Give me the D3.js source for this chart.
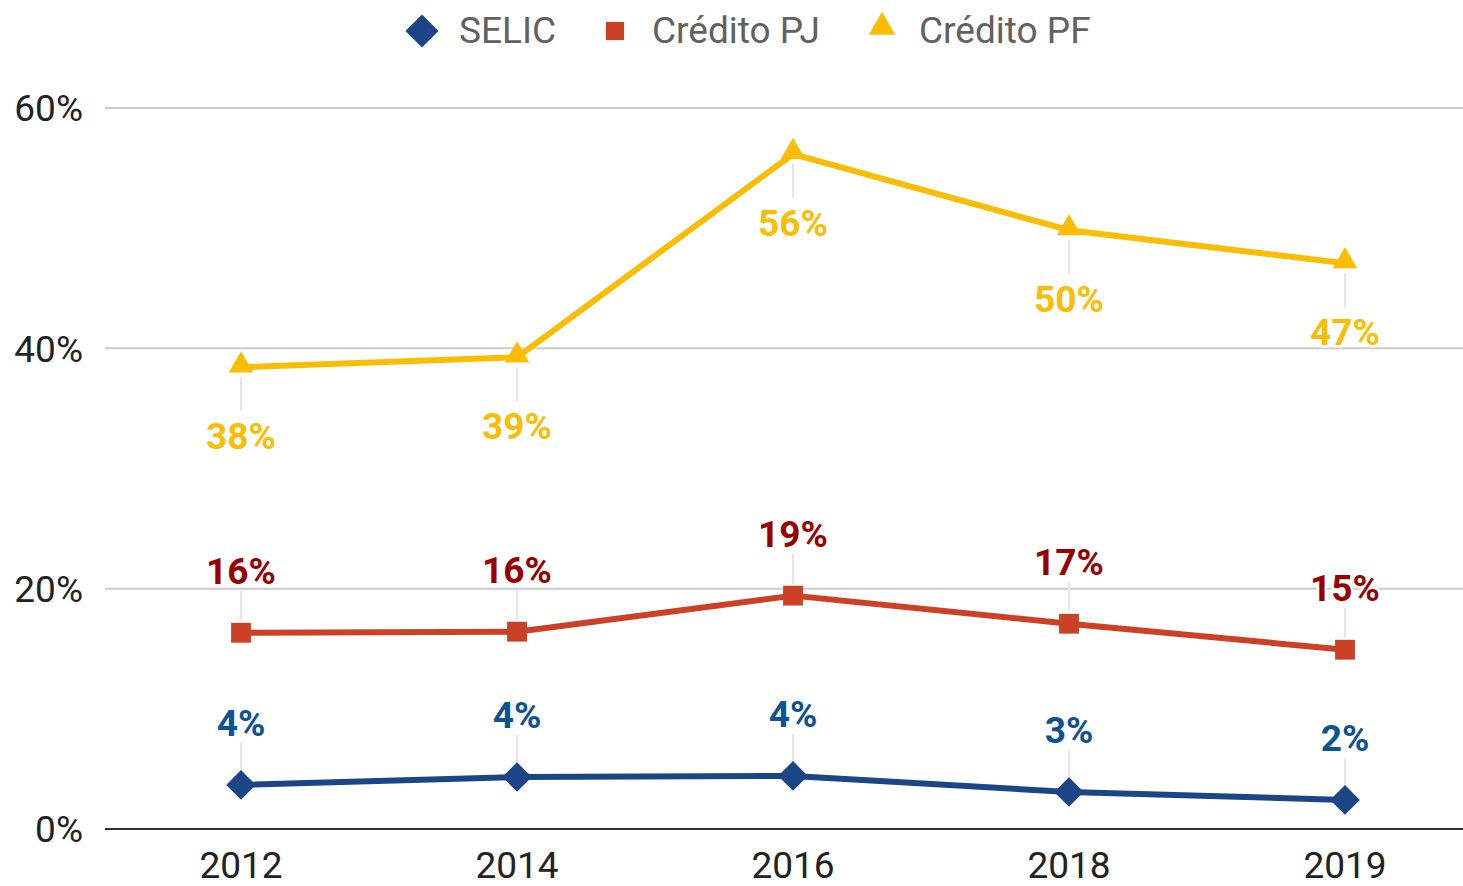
<!DOCTYPE html>
<html><head><meta charset="utf-8">
<script src="https://cdn.jsdelivr.net/npm/d3@7/dist/d3.min.js"></script>
<style>
html,body{margin:0;padding:0;background:#fff;overflow:hidden}
text{font-family:Roboto,"Noto Sans",sans-serif}
</style></head>
<body><svg id="c" width="1463" height="886"></svg>
<script>
const years = ["2012","2014","2016","2018","2019"];
const selic = [0.0367, 0.0433, 0.0442, 0.0308, 0.0242];
const creditoPJ = [0.1633, 0.1642, 0.1942, 0.1708, 0.1492];
const creditoPF = [0.3842, 0.3925, 0.5617, 0.4983, 0.4708];
const yTicks = [0, 0.2, 0.4, 0.6];

const series = [
  {name:"SELIC", values:selic, color:"#1c4587", labelColor:"#0b5394", symbol:d3.symbolDiamond2, size:560, pos:"above"},
  {name:"Crédito PJ", values:creditoPJ, color:"#cc4125", labelColor:"#990000", symbol:d3.symbolSquare2, size:500, pos:"above"},
  {name:"Crédito PF", values:creditoPF, color:"#fbbc04", labelColor:"#fbbc04", symbol:d3.symbolTriangle2, size:430, pos:"below"}
];

const svg = d3.select("#c");
const x = d3.scalePoint().domain(years).range([103,1483]).padding(0.5);
const y = d3.scaleLinear().domain([0,0.6]).range([829,108]);
const fmt = d3.format(".0%");

// gridlines
svg.append("g").selectAll("line").data(yTicks.filter(d=>d>0)).join("line")
  .attr("x1",105).attr("x2",1463).attr("y1",d=>y(d)).attr("y2",d=>y(d))
  .attr("stroke","#cccccc").attr("stroke-width",2);

// y tick labels
svg.append("g").selectAll("text").data(yTicks).join("text")
  .attr("x",83).attr("y",d=>y(d)).attr("dy","0.36em").attr("text-anchor","end")
  .attr("font-size",37).attr("fill","#222").text(d=>fmt(d));

// x labels
svg.append("g").selectAll("text").data(years).join("text")
  .attr("x",d=>x(d)).attr("y",878).attr("text-anchor","middle")
  .attr("font-size",37).attr("fill","#222").text(d=>d);

// leader lines
series.forEach(s=>{
  svg.append("g").selectAll("line").data(s.values).join("line")
    .attr("x1",(d,i)=>x(years[i])).attr("x2",(d,i)=>x(years[i]))
    .attr("y1",d=> s.pos==="above" ? y(d)-12 : y(d)+10)
    .attr("y2",d=> s.pos==="above" ? y(d)-42 : y(d)+44)
    .attr("stroke","#e6e6e6").attr("stroke-width",2);
});

// baseline
svg.append("line").attr("x1",105).attr("x2",1463).attr("y1",y(0)).attr("y2",y(0))
  .attr("stroke","#333").attr("stroke-width",2);

// lines and markers
const line = d3.line().x((d,i)=>x(years[i])).y(d=>y(d));
series.forEach(s=>{
  svg.append("path").datum(s.values).attr("d",line).attr("fill","none")
    .attr("stroke",s.color).attr("stroke-width",6).attr("stroke-linejoin","round");
  svg.append("g").selectAll("path").data(s.values).join("path")
    .attr("d",d3.symbol().type(s.symbol).size(s.size))
    .attr("transform",(d,i)=>`translate(${x(years[i])},${y(d) + (s.symbol===d3.symbolTriangle2 ? -2 : 0)})`)
    .attr("fill",s.color);
});

// data labels
series.forEach(s=>{
  svg.append("g").selectAll("text").data(s.values).join("text")
    .attr("x",(d,i)=>x(years[i]))
    .attr("y",d=> s.pos==="above" ? y(d)-49 : y(d)+82)
    .attr("text-anchor","middle").attr("font-size",37).attr("font-weight","bold")
    .attr("fill",s.labelColor).attr("stroke","#fff").attr("stroke-width",5)
    .attr("paint-order","stroke").attr("stroke-linejoin","round")
    .text(d=>fmt(d));
});

// legend
const legendX = [422, 615, 882];
const lg = svg.append("g");
series.forEach((s,i)=>{
  const sz = s.symbol===d3.symbolDiamond2 ? 700 : (s.symbol===d3.symbolSquare2 ? 420 : 500);
  lg.append("path").attr("d",d3.symbol().type(s.symbol).size(sz)())
    .attr("transform",`translate(${legendX[i]},${s.symbol===d3.symbolTriangle2 ? 27 : 31})`)
    .attr("fill",s.color);
  lg.append("text").attr("x",legendX[i]+37).attr("y",30).attr("dy","0.36em")
    .attr("font-size",37).attr("fill","#616161").text(s.name);
});
</script></body></html>
